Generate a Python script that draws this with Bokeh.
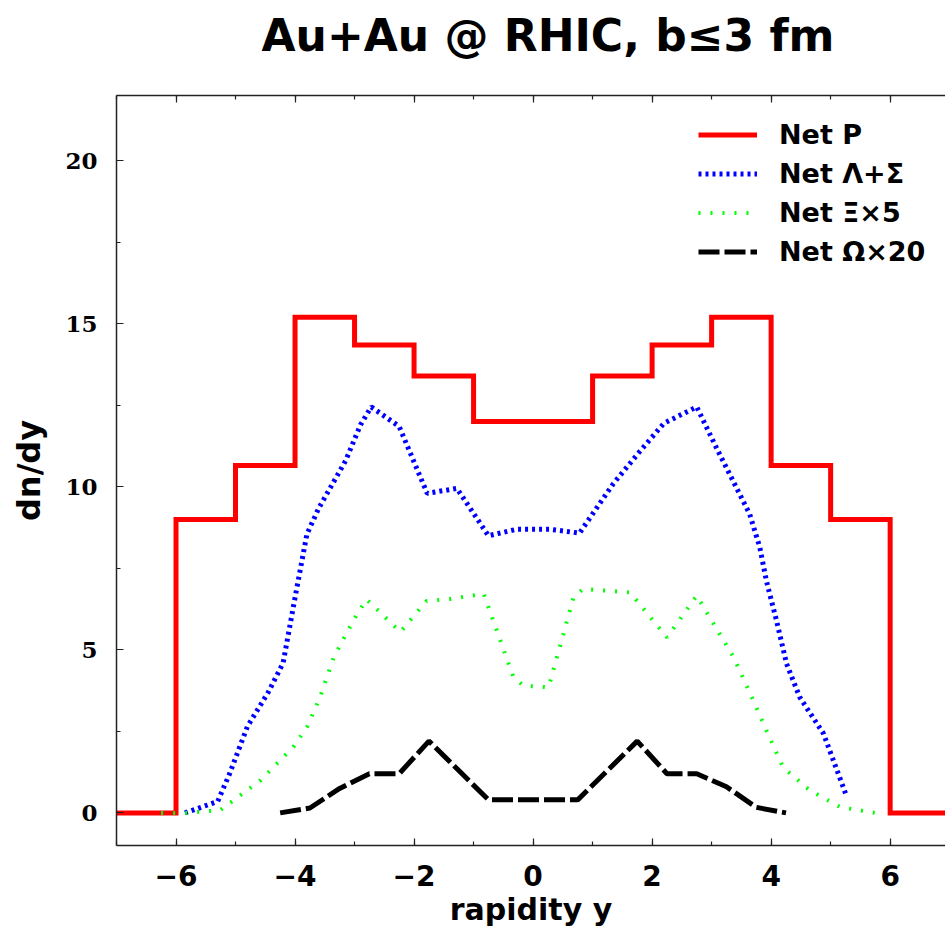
from bokeh.plotting import figure
from bokeh.models import (Range1d, LinearAxis, SingleIntervalTicker, Title, Legend, LegendItem)
from bokeh.embed import file_html
from bokeh.resources import INLINE

# ---- data ----
p_edges = [-7, -6, -5, -4, -3, -2, -1, 1, 2, 3, 4, 5, 6, 7]
p_vals = [0.0, 9.0, 10.65, 15.2, 14.35, 13.4, 12.0, 13.4, 14.35, 15.2, 10.65, 9.0, 0.0]

lam_x = [-5.85, -5.3, -5.1, -4.8, -4.45, -4.2, -4.0, -3.8, -3.6, -3.15, -2.9, -2.72,
         -2.25, -1.78, -1.28, -0.75, -0.27, 0.27, 0.78, 1.35, 1.8, 2.2, 2.75, 3.08,
         3.64, 3.81, 3.92, 4.09, 4.26, 4.48, 4.88, 5.25]
lam_y = [0.0, 0.35, 1.2, 2.65, 3.7, 4.6, 6.6, 8.55, 9.35, 10.8, 11.9, 12.45,
         11.85, 9.8, 9.95, 8.5, 8.7, 8.7, 8.58, 10.1, 11.1, 11.95, 12.45, 11.2,
         9.16, 8.14, 7.12, 5.9, 4.57, 3.55, 2.43, 0.6]

xi_x = [-6.25, -5.84, -5.26, -4.92, -4.58, -4.03, -3.8, -3.58, -3.35, -3.02, -2.8,
        -2.23, -1.79, -1.39, -0.83, -0.33, -0.16, 0.26, 0.68, 0.84, 1.63, 2.25,
        2.75, 3.37, 3.7, 3.92, 4.2, 4.65, 5.16, 5.74]
xi_y = [0.0, 0.0, 0.08, 0.54, 1.0, 2.02, 2.63, 3.55, 4.77, 5.9, 6.55,
        5.55, 6.5, 6.56, 6.72, 4.16, 3.9, 3.85, 6.61, 6.87, 6.76, 5.38,
        6.66, 4.77, 3.45, 2.53, 1.4, 0.69, 0.18, 0.0]

om_x = [-4.25, -3.75, -3.25, -2.75, -2.25, -1.75, -0.75, -0.25, 0.25, 0.75,
        1.75, 2.25, 2.75, 3.25, 3.75, 4.25]
om_y = [0.0, 0.15, 0.75, 1.2, 1.2, 2.2, 0.4, 0.4, 0.4, 0.4,
        2.2, 1.2, 1.2, 0.8, 0.17, 0.0]

labels = ["Net P", "Net \u039b+\u03a3", "Net \u039e\u00d75", "Net \u03a9\u00d720"]
title_text = "Au+Au @ RHIC, b\u22643 fm"
x_label = "rapidity y"
y_label = "dn/dy"

SANS = "DejaVu Sans"
SERIF = "DejaVu Serif"

p = figure(width=945, height=930, output_backend="svg", toolbar_location=None,
           x_range=Range1d(-7, 6.93), y_range=Range1d(-1, 22),
           x_axis_location=None, y_axis_location=None,
           min_border_left=116, min_border_right=0, min_border_top=95, min_border_bottom=85)
p.outline_line_color = None
p.xgrid.visible = False
p.ygrid.visible = False
p.background_fill_color = "white"
p.border_fill_color = "white"

def style_axis(ax, show_labels):
    ax.axis_line_color = "#222222"
    ax.axis_line_width = 1.5
    ax.major_tick_line_color = "#222222"
    ax.minor_tick_line_color = "#222222"
    ax.major_tick_line_width = 1.2
    ax.minor_tick_line_width = 1.2
    ax.major_tick_in = 7
    ax.major_tick_out = 0
    ax.minor_tick_in = 4
    ax.minor_tick_out = 0
    if not show_labels:
        ax.major_label_text_font_size = "0px"
        ax.major_label_text_color = None
        ax.major_label_standoff = 0

xb = LinearAxis(ticker=SingleIntervalTicker(interval=2, num_minor_ticks=2))
style_axis(xb, True)
xb.major_label_text_font = SANS
xb.major_label_text_font_style = "bold"
xb.major_label_text_font_size = "28px"
xb.major_label_text_color = "black"
xb.major_label_standoff = 19
xb.axis_label = x_label
xb.axis_label_text_font = SANS
xb.axis_label_text_font_style = "bold"
xb.axis_label_text_font_size = "30px"
xb.axis_label_text_color = "black"
xb.axis_label_standoff = 3
p.add_layout(xb, "below")

# top axis: ticks only; an invisible axis label keeps space between frame and title
xt = LinearAxis(ticker=SingleIntervalTicker(interval=2, num_minor_ticks=2))
style_axis(xt, False)
xt.axis_label = "."
xt.axis_label_text_alpha = 0
xt.axis_label_text_font_size = "20px"
xt.axis_label_standoff = 13
p.add_layout(xt, "above")

yl = LinearAxis(ticker=SingleIntervalTicker(interval=5, num_minor_ticks=2))
style_axis(yl, True)
yl.major_label_text_font = SERIF
yl.major_label_text_font_style = "bold"
yl.major_label_text_font_size = "23px"
yl.major_label_text_color = "black"
yl.major_label_standoff = 19
yl.axis_label = y_label
yl.axis_label_text_font = SANS
yl.axis_label_text_font_style = "bold"
yl.axis_label_text_font_size = "32px"
yl.axis_label_text_color = "black"
yl.axis_label_standoff = 14
p.add_layout(yl, "left")

# ---- series ----
step_x = p_edges
step_y = p_vals + [p_vals[-1]]
r_p = p.step(step_x, step_y, mode="after", line_color="#ff0000", line_width=5, line_join="miter")
r_l = p.line(lam_x, lam_y, line_color="#0000ff", line_width=5, line_dash="3 4")
r_x = p.line(xi_x, xi_y, line_color="#00ff00", line_width=4, line_dash="2 10")
r_o = p.line(om_x, om_y, line_color="black", line_width=5, line_dash="21 5")

legend = Legend(items=[LegendItem(label=labels[0], renderers=[r_p]),
                       LegendItem(label=labels[1], renderers=[r_l]),
                       LegendItem(label=labels[2], renderers=[r_x]),
                       LegendItem(label=labels[3], renderers=[r_o])],
                location=(582, 574), padding=0, spacing=0, margin=0,
                glyph_width=59, glyph_height=39, label_height=39, label_standoff=22,
                label_text_font=SANS, label_text_font_style="bold",
                label_text_font_size="27px", label_text_color="black",
                border_line_color=None, background_fill_alpha=0)
p.add_layout(legend, "center")

title = Title(text=title_text, align="left", offset=145,
              text_font=SANS, text_font_style="bold", text_font_size="44px", text_color="black")
p.add_layout(title, "above")

open("out.html", "w").write(file_html(p, INLINE))
